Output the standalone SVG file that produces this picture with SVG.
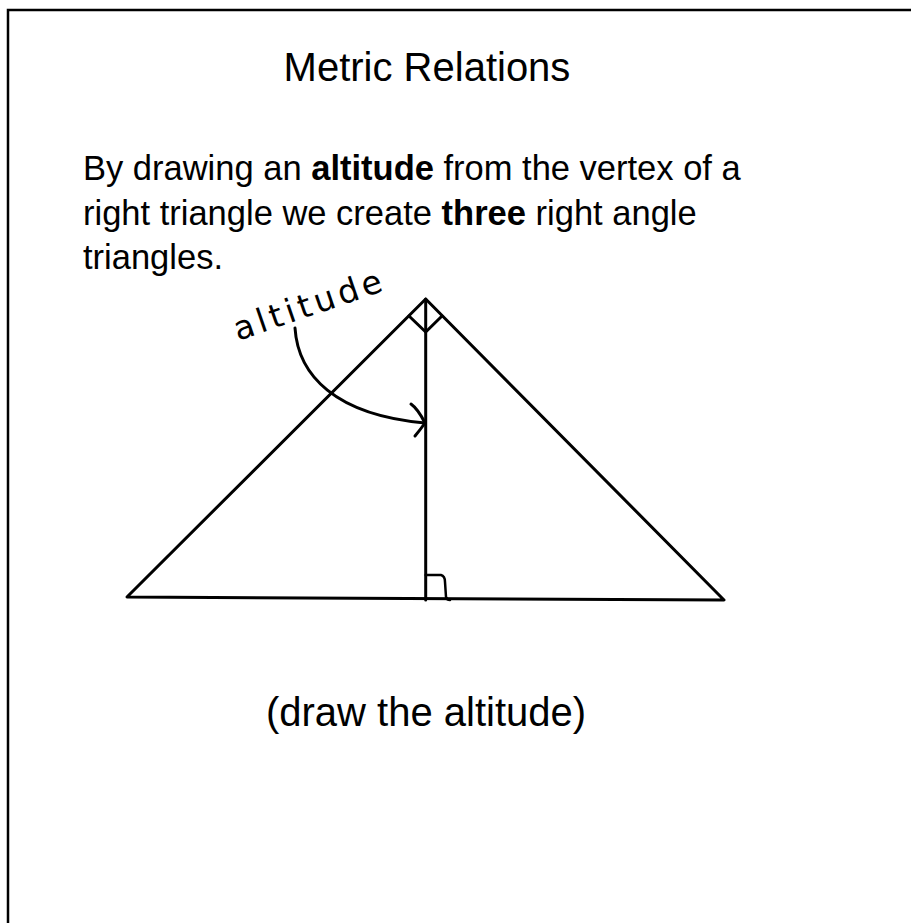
<svg xmlns="http://www.w3.org/2000/svg" width="911" height="923" viewBox="0 0 911 923">
  <style>
    .txt { font-family: "Liberation Sans", Arial, sans-serif; fill: #000; }
    .line { stroke: #000; stroke-width: 3; fill: none; stroke-linecap: round; stroke-linejoin: round; }
    .hand { stroke: #000; stroke-width: 2.5; fill: none; stroke-linecap: round; stroke-linejoin: round; }
    .handtxt { font-family: "DejaVu Sans", sans-serif; fill: #000; }
  </style>
  <rect x="0" y="0" width="911" height="923" fill="#fff"/>
  <rect x="8" y="10" width="920" height="930" fill="none" stroke="#000" stroke-width="2.5"/>

  <g id="title">
    <text class="txt" x="427" y="81" font-size="40" text-anchor="middle">Metric Relations</text>
  </g>

  <g id="body">
    <text class="txt" x="83" y="180" font-size="34.5">By drawing an <tspan font-weight="bold">altitude</tspan> from the vertex of a</text>
    <text class="txt" x="83" y="224.5" font-size="34.5">right triangle we create <tspan font-weight="bold">three</tspan> right angle</text>
    <text class="txt" x="83" y="269" font-size="34.5">triangles.</text>
  </g>

  <g id="triangle">
    <path class="line" d="M127,597 L425.7,299 L724,600 Z"/>
    <path class="line" d="M409,316 L425.7,332 L442,316"/>
  </g>

  <g id="altitude">
    <line class="line" x1="425.7" y1="299" x2="425.7" y2="600"/>
    <path class="hand" d="M425.7,575 L441,575 Q445,576 445,582 L446,597 Q447,600 450,600"/>
  </g>

  <g id="handwritten-label">
    <text class="handtxt" x="238" y="341" font-size="33" textLength="155" lengthAdjust="spacing" transform="rotate(-19 238 341)">altitude</text>
  </g>

  <g id="connectors">
    <path class="line" d="M295,328 C298,375 335,415 425,423"/>
    <path class="line" d="M411,404 Q418,409 425,423 Q420,430 415,436"/>
  </g>

  <g id="caption">
    <text class="txt" x="426" y="726" font-size="40" text-anchor="middle">(draw the altitude)</text>
  </g>
</svg>
